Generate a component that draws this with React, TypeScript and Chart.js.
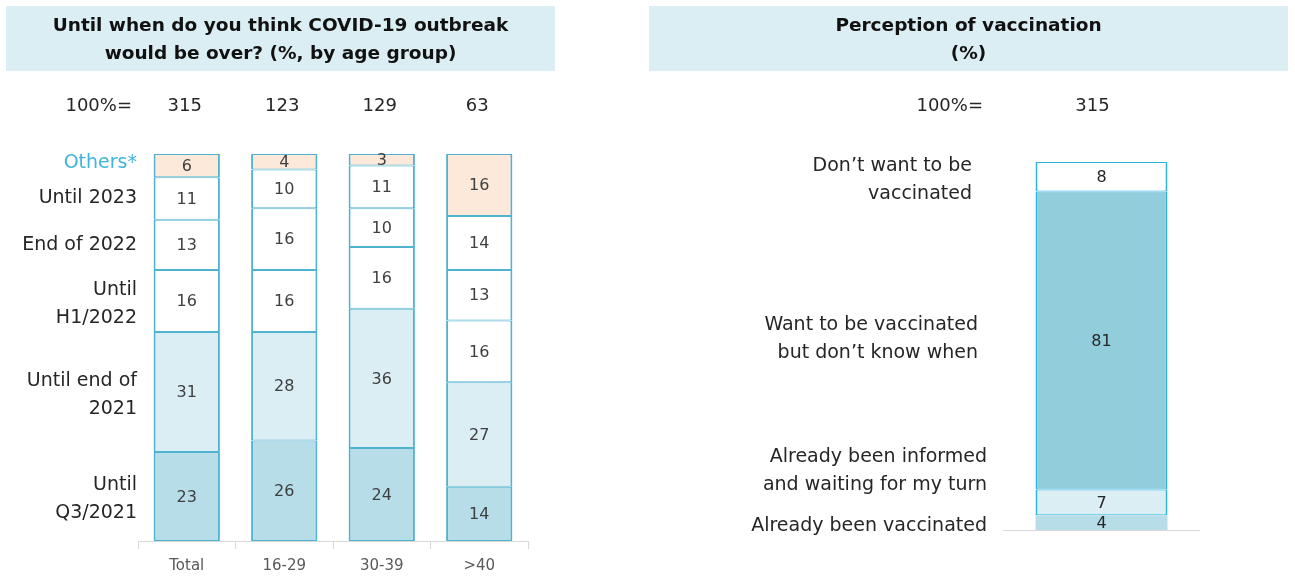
import React, { useEffect, useRef } from "react";
import { Chart, registerables } from "chart.js";

Chart.register(...registerables);

// ---------- Data: left panel (outbreak end expectation by age group) ----------
const ageGroups = ["Total", "16-29", "30-39", ">40"];
const ageBaseSizes = ["315", "123", "129", "63"];
const outbreakCategories = [
  "Until Q3/2021",
  "Until end of 2021",
  "Until H1/2022",
  "End of 2022",
  "Until 2023",
  "Others*",
];
const outbreakLabelLines = [
  ["Until", "Q3/2021"],
  ["Until end of", "2021"],
  ["Until", "H1/2022"],
  ["End of 2022"],
  ["Until 2023"],
  ["Others*"],
];
const untilQ3_2021 = [23, 26, 24, 14];
const untilEnd2021 = [31, 28, 36, 27];
const untilH1_2022 = [16, 16, 16, 16];
const endOf2022 = [13, 16, 10, 13];
const until2023 = [11, 10, 11, 14];
const othersOutbreak = [6, 4, 3, 16];
const outbreakSeries = [untilQ3_2021, untilEnd2021, untilH1_2022, endOf2022, until2023, othersOutbreak];
const outbreakColors = ["#b7dde8", "#daeef3", "#ffffff", "#ffffff", "#ffffff", "#fde9d9"];

// ---------- Data: right panel (perception of vaccination) ----------
const vaccGroup = ["Total"];
const vaccBaseSize = ["315"];
const vaccCategories = [
  "Already been vaccinated",
  "Already been informed and waiting for my turn",
  "Want to be vaccinated but don’t know when",
  "Don’t want to be vaccinated",
];
const vaccLabelLines = [
  ["Already been vaccinated"],
  ["Already been informed", "and waiting for my turn"],
  ["Want to be vaccinated", "but don’t know when"],
  ["Don’t want to be", "vaccinated"],
];
const alreadyVaccinated = [4];
const informedWaiting = [7];
const wantDontKnow = [81];
const dontWant = [8];
const vaccSeries = [alreadyVaccinated, informedWaiting, wantDontKnow, dontWant];
const vaccColors = ["#b7dde8", "#daeef3", "#92cddc", "#ffffff"];
// label anchor positions (value space) and right edges for right-hand category labels
const vaccLabelAnchors = [1, 16, 52, 95];
const vaccLabelRight = [387, 387, 378, 372];

const FONT = "'DejaVu Sans', Verdana, sans-serif";

function drawHeader(ctx: CanvasRenderingContext2D, x: number, w: number, lines: string[]) {
  ctx.save();
  ctx.fillStyle = "#dbeef4";
  ctx.fillRect(x, 6, w, 65);
  ctx.fillStyle = "#111111";
  ctx.font = `bold 18.5px ${FONT}`;
  ctx.textAlign = "center";
  ctx.textBaseline = "middle";
  lines.forEach((l, i) => ctx.fillText(l, x + w / 2, 26 + i * 28));
  ctx.restore();
}

function drawBarValues(chart: any, series: number[][], color: string) {
  const ctx = chart.ctx;
  ctx.save();
  ctx.font = `16px ${FONT}`;
  ctx.fillStyle = color;
  ctx.textAlign = "center";
  ctx.textBaseline = "middle";
  series.forEach((vals, i) => {
    const meta = chart.getDatasetMeta(i);
    meta.data.forEach((bar: any, j: number) => {
      const p = bar.getProps(["x", "y", "base"], true);
      ctx.fillText(String(vals[j]), p.x, (p.y + p.base) / 2 + 1);
    });
  });
  ctx.restore();
}

function LeftChart() {
  const ref = useRef<HTMLCanvasElement>(null);
  useEffect(() => {
    const plugin = {
      id: "leftPanel",
      beforeDraw(chart: any) {
        const ctx = chart.ctx;
        drawHeader(ctx, 6, 549, ["Until when do you think COVID-19 outbreak", "would be over? (%, by age group)"]);
        const xs = chart.scales.x;
        ctx.save();
        ctx.font = `18px ${FONT}`;
        ctx.fillStyle = "#262626";
        ctx.textBaseline = "middle";
        ctx.textAlign = "right";
        ctx.fillText("100%=", chart.chartArea.left - 6, 106);
        ctx.textAlign = "center";
        ageBaseSizes.forEach((s, i) => ctx.fillText(s, xs.getPixelForValue(i) - 2, 106));
        ctx.restore();
      },
      afterDatasetsDraw(chart: any) {
        drawBarValues(chart, outbreakSeries, "#404040");
        const ctx = chart.ctx;
        const ys = chart.scales.y;
        ctx.save();
        ctx.font = `19px ${FONT}`;
        ctx.textAlign = "right";
        ctx.textBaseline = "middle";
        let cum = 0;
        outbreakSeries.forEach((vals, i) => {
          const mid = cum + vals[0] / 2;
          cum += vals[0];
          const lines = outbreakLabelLines[i];
          const cy = ys.getPixelForValue(mid) + (lines.length > 1 ? 3 : 0) - (i === 5 ? 3 : 0);
          ctx.fillStyle = i === 5 ? "#3fb4dc" : "#262626";
          lines.forEach((l, k) => {
            ctx.fillText(l, chart.chartArea.left - 1, cy + (k - (lines.length - 1) / 2) * 28);
          });
        });
        ctx.restore();
      },
    };
    const chart = new Chart(ref.current!, {
      type: "bar",
      data: {
        labels: ageGroups,
        datasets: outbreakSeries.map((vals, i) => ({
          label: outbreakCategories[i],
          data: vals,
          backgroundColor: outbreakColors[i],
          borderColor: "#4fb3cf",
          borderWidth: { top: 1, bottom: 1, left: 2, right: 2 },
          borderSkipped: false,
          barPercentage: 0.68,
          categoryPercentage: 1,
        })),
      },
      options: {
        responsive: false,
        animation: false,
        layout: { padding: { left: 138, right: 32, top: 154, bottom: 3 } },
        plugins: { legend: { display: false }, tooltip: { enabled: false }, title: { display: false } },
        scales: {
          x: {
            stacked: true,
            afterFit(scale: any) {
              scale.height = 34;
            },
            grid: { display: true, offset: true, drawOnChartArea: false, drawTicks: true, tickLength: 8, color: "#d9d9d9" },
            border: { display: true, color: "#d9d9d9" },
            ticks: { color: "#595959", font: { family: FONT, size: 15 }, padding: 8 },
          },
          y: { stacked: true, display: false, min: 0, max: 100 },
        },
      },
      plugins: [plugin],
    });
    return () => chart.destroy();
  }, []);
  return <canvas ref={ref} width={560} height={578} style={{ position: "absolute", left: 0, top: 0, display: "block" }} />;
}

function RightChart() {
  const ref = useRef<HTMLCanvasElement>(null);
  useEffect(() => {
    const plugin = {
      id: "rightPanel",
      beforeDraw(chart: any) {
        const ctx = chart.ctx;
        drawHeader(ctx, 49, 639, ["Perception of vaccination", "(%)"]);
        const xs = chart.scales.x;
        ctx.save();
        ctx.font = `18px ${FONT}`;
        ctx.fillStyle = "#262626";
        ctx.textBaseline = "middle";
        ctx.textAlign = "right";
        ctx.fillText("100%=", 383, 106);
        ctx.textAlign = "center";
        vaccBaseSize.forEach((s, i) => ctx.fillText(s, xs.getPixelForValue(i) - 9, 106));
        ctx.restore();
      },
      afterDatasetsDraw(chart: any) {
        const ctx = chart.ctx;
        const ca = chart.chartArea;
        ctx.save();
        ctx.strokeStyle = "#d9d9d9";
        ctx.lineWidth = 1;
        ctx.beginPath();
        ctx.moveTo(ca.left, Math.round(ca.bottom) + 0.5);
        ctx.lineTo(ca.right, Math.round(ca.bottom) + 0.5);
        ctx.stroke();
        ctx.restore();
        drawBarValues(chart, vaccSeries, "#262626");
        const ys = chart.scales.y;
        ctx.save();
        ctx.font = `19px ${FONT}`;
        ctx.fillStyle = "#262626";
        ctx.textAlign = "right";
        ctx.textBaseline = "middle";
        vaccLabelLines.forEach((lines, i) => {
          const cy = ys.getPixelForValue(vaccLabelAnchors[i]);
          lines.forEach((l, k) => {
            ctx.fillText(l, vaccLabelRight[i], cy + (k - (lines.length - 1) / 2) * 28);
          });
        });
        ctx.restore();
      },
    };
    const chart = new Chart(ref.current!, {
      type: "bar",
      data: {
        labels: vaccGroup,
        datasets: vaccSeries.map((vals, i) => ({
          label: vaccCategories[i],
          data: vals,
          backgroundColor: vaccColors[i],
          borderColor: "#2db5e2",
          borderWidth: i === 0 ? 0 : { top: 1, bottom: 1, left: 2, right: 2 },
          borderSkipped: false,
          barPercentage: 0.67,
          categoryPercentage: 1,
        })),
      },
      options: {
        responsive: false,
        animation: false,
        layout: { padding: { left: 403, right: 95, top: 162, bottom: 48 } },
        plugins: { legend: { display: false }, tooltip: { enabled: false }, title: { display: false } },
        scales: {
          x: { stacked: true, display: false },
          y: { stacked: true, display: false, min: 0, max: 100 },
        },
      },
      plugins: [plugin],
    });
    return () => chart.destroy();
  }, []);
  return <canvas ref={ref} width={695} height={578} style={{ position: "absolute", left: 600, top: 0, display: "block" }} />;
}

export default function App() {
  return (
    <div style={{ position: "absolute", left: 0, top: 0, width: 1295, height: 578, background: "#ffffff", overflow: "hidden" }}>
      <LeftChart />
      <RightChart />
    </div>
  );
}
